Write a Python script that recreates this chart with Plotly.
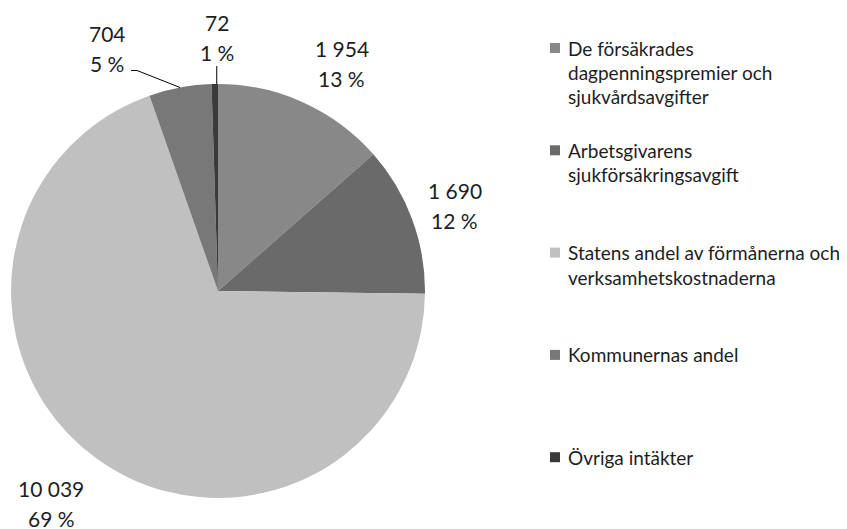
import math
import plotly.graph_objects as go

# ---- data ----
categories = [
    "De försäkrades dagpenningspremier och sjukvårdsavgifter",
    "Arbetsgivarens sjukförsäkringsavgift",
    "Statens andel av förmånerna och verksamhetskostnaderna",
    "Kommunernas andel",
    "Övriga intäkter",
]
legend_lines = [
    ["De försäkrades", "dagpenningspremier och", "sjukvårdsavgifter"],
    ["Arbetsgivarens", "sjukförsäkringsavgift"],
    ["Statens andel av förmånerna och", "verksamhetskostnaderna"],
    ["Kommunernas andel"],
    ["Övriga intäkter"],
]
values = [1954, 1690, 10039, 704, 72]
percents = [13, 12, 69, 5, 1]
colors = ["#888888", "#6a6a6a", "#c0c0c0", "#787878", "#3a3a3a"]

# ---- layout geometry (screen pixels; page body has an 8px margin) ----
SW, SH = 847, 529
OFF = 8
WF, HF = SW - OFF, SH - OFF
CX, CY, R = 218, 291, 207
FONT = "Lato, 'Open Sans', sans-serif"
TXT = "#1e1e1e"

# label placement: radius factor and angular nudge (degrees) per slice
label_rf = [1.254, 1.217, 1.304, 1.29, 1.227]
label_nudge = [4.2, 0.3, 2.5, -13.9, 0.7]
line_gap = 15  # half line spacing of two-line labels

# legend geometry
LEG_SQ_X = 550
LEG_SQ = 10
LEG_TXT_X = 566
LEG_Y0 = 48
LEG_STEP = 102.3
LEG_LINE = 24.5


def px(x):
    return (x - OFF) / WF


def py(y):
    return 1 - (y - OFF) / HF


fig = go.Figure(go.Pie(
    labels=categories,
    values=values,
    sort=False,
    direction="clockwise",
    rotation=0,
    marker=dict(colors=colors, line=dict(width=0)),
    textinfo="none",
    hoverinfo="label+value",
    showlegend=False,
    domain=dict(x=[px(CX - R), px(CX + R)], y=[py(CY + R), py(CY - R)]),
))

total = sum(values)
annotations = []
shapes = []
cum = 0
for i, v in enumerate(values):
    mid = (cum + v / 2) / total * 360
    cum += v
    ang = math.radians(mid + label_nudge[i])
    lx = CX + R * label_rf[i] * math.sin(ang)
    ly = CY - R * label_rf[i] * math.cos(ang)
    vtxt = f"{v:,}".replace(",", " ")
    ptxt = f"{percents[i]} %"
    for t, dy in ((vtxt, -line_gap), (ptxt, line_gap)):
        annotations.append(dict(
            x=px(lx), y=py(ly + dy), xref="paper", yref="paper",
            text=t, showarrow=False, xanchor="center", yanchor="middle",
            height=20, borderpad=0,
            font=dict(family=FONT, size=21, color=TXT),
        ))
    # leader lines for the small slices
    ma = math.radians(mid)
    ex = CX + R * math.sin(ma)
    ey = CY - R * math.cos(ma)
    if i == 4:
        shapes.append(dict(type="line", xref="paper", yref="paper",
                           x0=px(ex + 2), y0=py(ey), x1=px(ex + 2), y1=py(ly + line_gap + 14),
                           line=dict(color="#000", width=1)))
    if i == 3:
        path = (f"M {px(ex)},{py(ey)} L {px(ex - 43)},{py(ey - 17)} "
                f"L {px(ex - 49)},{py(ey - 17)}")
        shapes.append(dict(type="path", xref="paper", yref="paper", path=path,
                           line=dict(color="#000", width=1)))

# manual legend
for i, lines in enumerate(legend_lines):
    y0 = LEG_Y0 + i * LEG_STEP
    shapes.append(dict(type="rect", xref="paper", yref="paper",
                       x0=px(LEG_SQ_X), x1=px(LEG_SQ_X + LEG_SQ),
                       y0=py(y0 - LEG_SQ / 2), y1=py(y0 + LEG_SQ / 2),
                       fillcolor=colors[i], line=dict(width=0)))
    for k, t in enumerate(lines):
        annotations.append(dict(
            x=px(LEG_TXT_X), y=py(y0 + k * LEG_LINE), xref="paper", yref="paper",
            text=t, showarrow=False, xanchor="left", yanchor="middle",
            font=dict(family=FONT, size=19, color=TXT),
        ))

fig.update_layout(
    width=WF, height=HF,
    margin=dict(l=0, r=0, t=0, b=0),
    paper_bgcolor="white",
    plot_bgcolor="white",
    font=dict(family=FONT, color=TXT),
    showlegend=False,
    annotations=annotations,
    shapes=shapes,
)

fig.write_html("out.html")
